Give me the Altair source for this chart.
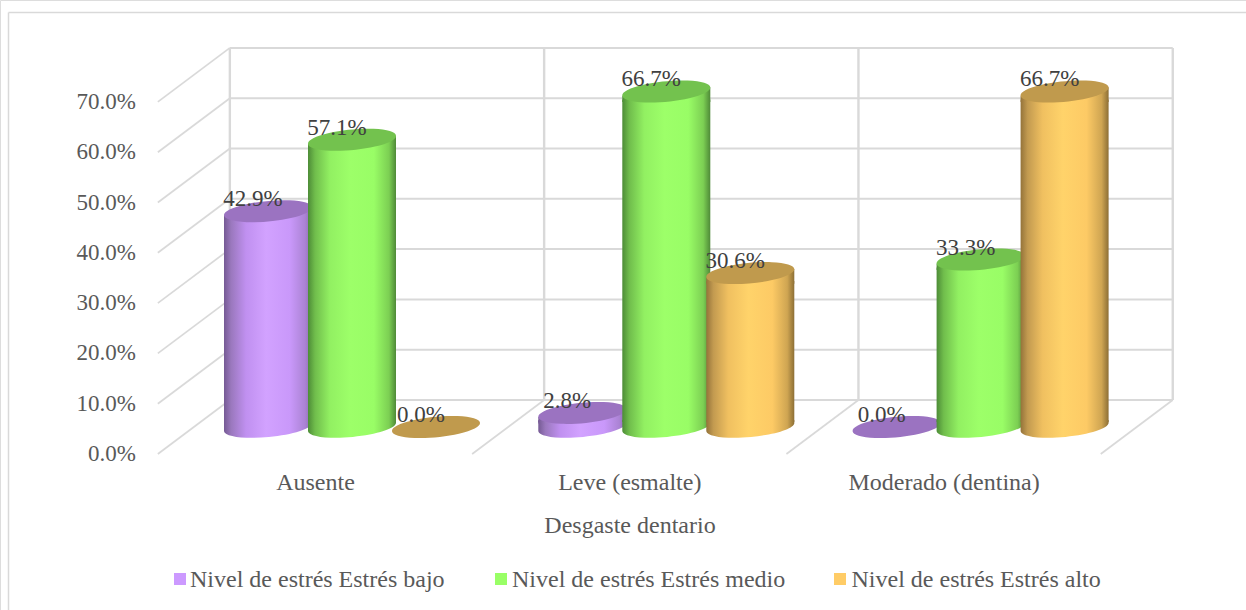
import altair as alt
import pandas as pd

# Chart values (percent of each stress level per dental-wear category)
categories = ["Ausente", "Leve (esmalte)", "Moderado (dentina)"]
series_names = ["Nivel de estrés Estrés bajo", "Nivel de estrés Estrés medio", "Nivel de estrés Estrés alto"]
bajo = [42.9, 2.8, 0.0]
medio = [57.1, 66.7, 33.3]
alto = [0.0, 30.6, 66.7]
ticks = [0, 10, 20, 30, 40, 50, 60, 70]

W, H = 1246, 610
GROUP_STEP = 314.3
PCT = 5.03
ZERO_X, ZERO_Y = 352, 427
x_scale = alt.Scale(domain=[-ZERO_X / GROUP_STEP, (W - ZERO_X) / GROUP_STEP], range=[0, W], nice=False, zero=False)
y_scale = alt.Scale(domain=[(ZERO_Y - H) / PCT, ZERO_Y / PCT], range=[H, 0], nice=False, zero=False)

# Pseudo-3D frame: back wall and front edge of the floor, expressed in scale units
BACK_DX, FRONT_DX = 35 / GROUP_STEP, -37 / GROUP_STEP
DEPTH_DY = 27 / PCT
CYL_R = 44
SERIES_STEP = 84 / GROUP_STEP
FONT = "Liberation Serif"
GRID = "#d9d9d9"


def X(f, **k):
    return alt.X(f, type="quantitative", scale=x_scale, axis=None, **k)


def Y(f, **k):
    return alt.Y(f, type="quantitative", scale=y_scale, axis=None, **k)


# Cylinder parts as unit-square symbols; symbol size sets the radius
SIZE = (2 * CYL_R) ** 2
LID = "M-1,0.094 A1.0045,0.23,-5.4,1,1,1,-0.094 A1.0045,0.23,-5.4,1,1,-1,0.094 Z"
FOOT = "M-1,-0.16 L-1,0.094 A1.0045,0.23,-5.4,0,0,1,-0.094 L1,-0.16 Z"
SHOULDER = "M-1,0.094 L1,-0.094 L1,0.24 L-1,0.24 Z"
SHOULDER_PCT = 8 / PCT
FOOT_PCT = 5 / PCT


def shade(stops):
    return alt.LinearGradient(
        gradient="linear", x1=0, x2=1, y1=0, y2=0,
        stops=[alt.GradientStop(offset=o, color=c) for o, c in stops],
    )


styles = [
    dict(
        base="#cc99ff", lid="#9b73c1",
        grad=shade([(0, "#755a94"), (0.08, "#9a78bd"), (0.25, "#c090f0"), (0.48, "#d2a2ff"),
                    (0.75, "#c998fa"), (0.92, "#ab83d4"), (1, "#8a6aae")]),
    ),
    dict(
        base="#99ff66", lid="#73c24e",
        grad=shade([(0, "#4d8c37"), (0.08, "#70bd4c"), (0.25, "#92f062"), (0.48, "#9dff69"),
                    (0.75, "#99fd66"), (0.92, "#7ccf53"), (1, "#4f8a38")]),
    ),
    dict(
        base="#ffcc66", lid="#c09a4d",
        grad=shade([(0, "#94733a"), (0.08, "#c29a50"), (0.25, "#f0c060"), (0.48, "#ffd36a"),
                    (0.75, "#fdca65"), (0.92, "#cfa552"), (1, "#8d6f35")]),
    ),
]

rows = []
for s, values in enumerate([bajo, medio, alto]):
    for g, v in enumerate(values):
        rows.append(dict(series=s, value=v, xc=g + (s - 1) * SERIES_STEP,
                         x0=g + (s - 1) * SERIES_STEP - CYL_R / GROUP_STEP,
                         x1=g + (s - 1) * SERIES_STEP + CYL_R / GROUP_STEP,
                         shoulder=max(v - SHOULDER_PCT, 0), foot=FOOT_PCT, zero=0,
                         label=f"{v:.1f}%"))
cyl = pd.DataFrame(rows)

# Frame lines
wall_h = pd.DataFrame([dict(a=-0.5 + BACK_DX, b=2.5 + BACK_DX, y=t + DEPTH_DY) for t in ticks])
wall_v = pd.DataFrame([dict(x=k - 0.5 + BACK_DX, a=DEPTH_DY, b=70 + DEPTH_DY) for k in range(4)])
side = pd.DataFrame([dict(xa=-0.5 + BACK_DX, xb=-0.5 + FRONT_DX, ya=t + DEPTH_DY, yb=t - DEPTH_DY) for t in ticks])
floor = pd.DataFrame([dict(xa=k - 0.5 + BACK_DX, xb=k - 0.5 + FRONT_DX, ya=DEPTH_DY, yb=-DEPTH_DY) for k in range(1, 4)])

layers = []
# Outer chart border (left and top edges)
layers.append(alt.Chart(pd.DataFrame({"a": [0]})).mark_rule(color=GRID, strokeWidth=1.5).encode(
    x=alt.value(8.5), y=alt.value(12.5), y2=alt.value(H)))
layers.append(alt.Chart(pd.DataFrame({"a": [0]})).mark_rule(color=GRID, strokeWidth=1.5).encode(
    x=alt.value(8.5), x2=alt.value(W), y=alt.value(12.5)))
layers.append(alt.Chart(wall_h).mark_rule(color=GRID, strokeWidth=2).encode(x=X("a"), x2="b", y=Y("y")))
layers.append(alt.Chart(wall_v).mark_rule(color=GRID, strokeWidth=2.4).encode(x=X("x"), y=Y("a"), y2="b"))
for d in (side, floor):
    layers.append(alt.Chart(d).mark_rule(color=GRID, strokeWidth=1.7).encode(x=X("xa"), x2="xb", y=Y("ya"), y2="yb"))

# Cylinders, drawn series by series so later ones overlap earlier ones
for s, st in enumerate(styles):
    d = cyl[cyl.series == s]
    solid = d[d.value > 0]
    layers.append(alt.Chart(solid).mark_point(shape=FOOT, size=SIZE, filled=True, fill=st["grad"], opacity=1, strokeWidth=0)
                  .encode(x=X("xc"), y=Y("zero")))
    layers.append(alt.Chart(solid).mark_rect(fill=st["grad"], strokeWidth=0)
                  .encode(x=X("x0"), x2="x1", y=Y("foot"), y2="shoulder"))
    layers.append(alt.Chart(solid).mark_point(shape=SHOULDER, size=SIZE, filled=True, fill=st["grad"], opacity=1, strokeWidth=0)
                  .encode(x=X("xc"), y=Y("value")))
    layers.append(alt.Chart(d).mark_point(shape=LID, size=SIZE, filled=True, fill=st["lid"], opacity=1, strokeWidth=0)
                  .encode(x=X("xc"), y=Y("value")))

# Value labels
layers.append(alt.Chart(cyl).mark_text(font=FONT, fontSize=23, color="#404040", dx=-15, dy=-12, baseline="middle")
              .encode(x=X("xc"), y=Y("value"), text="label:N"))

# Value-axis labels along the front edge
tick_df = pd.DataFrame({"x": [-0.5 + FRONT_DX] * len(ticks), "y": [t - DEPTH_DY for t in ticks],
                        "label": [f"{t:.1f}%" for t in ticks]})
layers.append(alt.Chart(tick_df).mark_text(font=FONT, fontSize=23, color="#595959", align="right", baseline="middle", dx=-22)
              .encode(x=X("x"), y=Y("y"), text="label:N"))

# Category labels and axis title
cat_df = pd.DataFrame({"x": [g + FRONT_DX + 0.5 / GROUP_STEP for g in range(3)], "label": categories})
layers.append(alt.Chart(cat_df).mark_text(font=FONT, fontSize=24, color="#595959", baseline="middle")
              .encode(x=X("x"), y=alt.value(482.5), text="label:N"))
layers.append(alt.Chart(pd.DataFrame({"label": ["Desgaste dentario"]})).mark_text(font=FONT, fontSize=24, color="#595959", baseline="middle")
              .encode(x=alt.value(630), y=alt.value(525.5), text="label:N"))

# Legend row
for name, st, sx, tx in zip(series_names, styles, [180, 501, 840], [190, 512, 851.5]):
    row = pd.DataFrame({"label": [name]})
    layers.append(alt.Chart(row).mark_square(size=144, color=st["base"], opacity=1).encode(x=alt.value(sx), y=alt.value(579)))
    layers.append(alt.Chart(row).mark_text(font=FONT, fontSize=24, color="#595959", align="left", baseline="middle")
                  .encode(x=alt.value(tx), y=alt.value(580), text="label:N"))

chart = alt.layer(*layers).properties(
    width=W, height=H, padding=0, autosize=alt.AutoSizeParams(type="none"),
).configure_view(stroke=None).configure(background="white")

chart.save("out.html", embed_options={"renderer": "svg", "actions": False})
